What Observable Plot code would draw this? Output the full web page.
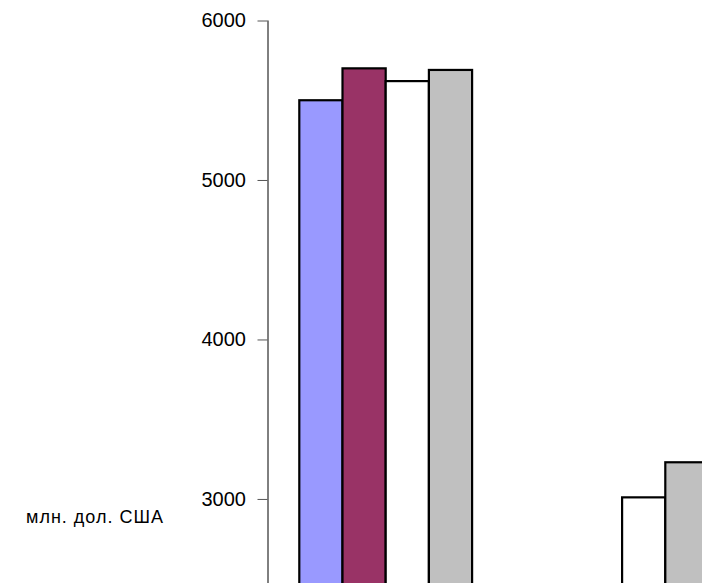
<!DOCTYPE html>
<html>
<head>
<meta charset="utf-8">
<script src="https://cdn.jsdelivr.net/npm/d3@7"></script>
<script src="https://cdn.jsdelivr.net/npm/@observablehq/plot@0.6"></script>
<style>
  html, body { margin: 0; padding: 0; background: #fff; overflow: hidden; }
  #wrap { position: relative; width: 702px; height: 583px; font-family: "Liberation Sans", Arial, sans-serif; }
  #ylabel { position: absolute; left: 0; width: 164px; top: 508px; text-align: right;
            font-size: 18px; line-height: 18px; letter-spacing: 1px; color: #000; white-space: nowrap; }
</style>
</head>
<body>
<div id="wrap"><div id="ylabel"></div></div>
<script>
// ---- data ----
const groups = ["Група 1", "Група 2"];
const series = ["Ряд 1", "Ряд 2", "Ряд 3", "Ряд 4"];
const series1 = [5500, 2150];
const series2 = [5700, 2300];
const series3 = [5620, 3010];
const series4 = [5690, 3230];
const colors = ["#9999FF", "#993366", "#FFFFFF", "#C0C0C0"];
const yTicks = [3000, 4000, 5000, 6000];
const yLabel = "млн. дол. США";

const seriesValues = [series1, series2, series3, series4];
const rows = [];
series.forEach((s, i) => groups.forEach((g, j) => rows.push({group: g, series: s, value: seriesValues[i][j]})));

document.getElementById("ylabel").textContent = yLabel;

const left = 267.5, step = 236.4, groupW = 172.8, barW = groupW / series.length;

const chart = Plot.plot({
  width: 702,
  height: 583,
  marginTop: 20.5,
  marginBottom: 0,
  marginLeft: left,
  marginRight: 0,
  style: {fontFamily: "'Liberation Sans', Arial, sans-serif", background: "transparent", overflow: "visible"},
  x: {type: "band", domain: groups, range: [left, left + step * groups.length],
      paddingInner: (step - groupW) / step, paddingOuter: (step - groupW) / step / 2, round: false, axis: null},
  y: {domain: [2473, 6000], axis: null},
  color: {domain: series, range: colors},
  marks: [
    ...series.map((s, i) => Plot.barY(rows.filter(d => d.series === s), {
      x: "group", y: "value", fill: "series", stroke: "#000", strokeWidth: 2.2,
      insetLeft: i * barW, insetRight: (series.length - 1 - i) * barW, clip: true
    })),
    Plot.frame({anchor: "left", stroke: "#000", strokeWidth: 1}),
    Plot.axisY({ticks: yTicks, tickFormat: d => String(d), tickSize: 10, tickPadding: 12,
                fontSize: 20, stroke: "#555", fill: "#000", label: null})
  ]
});
document.getElementById("wrap").appendChild(chart);
chart.style.position = "absolute";
chart.style.left = "0";
chart.style.top = "0";
</script>
</body>
</html>
